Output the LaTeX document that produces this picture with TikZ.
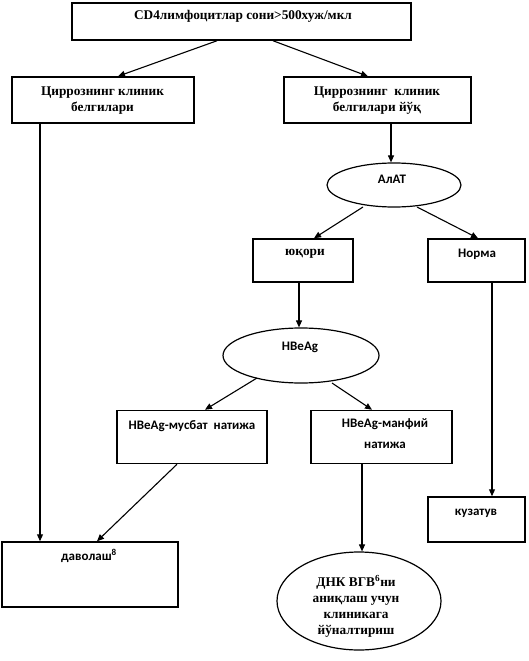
\documentclass[tikz,border=0pt]{standalone}
\usepackage{fontspec}
\setmainfont{Liberation Serif}
\newfontfamily\calfont{Carlito}
\usetikzlibrary{arrows.meta,shapes.geometric}
\begin{document}
\begin{tikzpicture}[x=1pt,y=-1pt,
  box/.style={draw,line width=1.5pt,rectangle,inner sep=0pt},
  ell/.style={draw,line width=1.2pt,ellipse,inner sep=0pt},
  arr/.style={line width=1.1pt,-{Triangle[length=7pt,width=6pt]}},
  ser/.style={font=\bfseries\fontsize{13.3}{16}\selectfont,align=center,inner sep=0pt},
  san/.style={font=\calfont\bfseries\fontsize{13}{21}\selectfont,align=center,inner sep=0pt}]
\useasboundingbox[fill=white] (0,0) rectangle (529,661);

\node[box,minimum width=339pt,minimum height=37pt] (top) at (241.5,21.5) {};
\node[ser] (topt) at (243,16) {CD4лимфоцитлар сони>500хуж/мкл};

\node[box,minimum width=182pt,minimum height=46pt] (cl) at (103,100) {};
\node[ser] (clt) at (102.5,101) {Циррознинг клиник\\белгилари};

\node[box,minimum width=187pt,minimum height=46pt] (cr) at (377.5,100) {};
\node[ser] (crt) at (377,101) {Циррознинг\ \ клиник\\белгилари йўқ};

\node[ell,minimum width=134pt,minimum height=44pt] (alat) at (394,185) {};
\node[san] (alatt) at (392,179) {АлАТ};

\node[box,minimum width=100pt,minimum height=43pt] (yu) at (303,260.5) {};
\node[ser] (yut) at (305,254) {юқори};

\node[box,minimum width=97pt,minimum height=43pt] (nor) at (476.5,260.5) {};
\node[san] (nort) at (477,254) {Норма};

\node[ell,minimum width=156pt,minimum height=55pt] (hb) at (301,355.5) {};
\node[san] (hbt) at (300,347) {HBeAg};

\node[box,minimum width=150pt,minimum height=53pt] (mus) at (192,437) {};
\node[san] (must) at (192,426) {HBeAg-мусбат\ \ натижа};

\node[box,minimum width=141pt,minimum height=53pt] (man) at (381.5,437) {};
\node[san] (mant) at (385,433.5) {HBeAg-манфий\\натижа};

\node[box,minimum width=176pt,minimum height=65pt] (dv) at (90,574.5) {};
\node[san] (dvt) at (89,556) {даволаш\textsuperscript{8}};

\node[box,minimum width=97pt,minimum height=45pt] (kuz) at (476.5,519.5) {};
\node[san] (kuzt) at (476,513) {кузатув};

\node[ell,minimum width=164pt,minimum height=98pt] (dnk) at (359,601) {};
\node[ser] (dnkt) at (356,606.5) {ДНК ВГВ\textsuperscript{6}ни\\аниқлаш учун\\клиникага\\йўналтириш};

\draw[arr] ([xshift=-24.5pt]top.south) -- ([xshift=15pt]cl.north);
\draw[arr] ([xshift=31.5pt]top.south) -- ([xshift=-9.5pt]cr.north);
\draw[arr] ([xshift=-63pt]cl.south) -- ([xshift=-50pt]dv.north);
\draw[arr] ([xshift=13.5pt]cr.south) -- ([xshift=-3pt]alat.north);
\draw[arr] ([shift={(-31,22)}]alat.center) -- ([xshift=11pt]yu.north);
\draw[arr] ([shift={(23,22)}]alat.center) -- ([xshift=1.5pt]nor.north);
\draw[arr] ([xshift=-4pt]yu.south) -- ([xshift=-2pt]hb.north);
\draw[arr] ([xshift=15.5pt]nor.south) -- ([xshift=15.5pt]kuz.north);
\draw[arr] ([shift={(-44,22.5)}]hb.center) -- ([xshift=13pt]mus.north);
\draw[arr] ([shift={(31,27.5)}]hb.center) -- ([xshift=-9.5pt]man.north);
\draw[arr] ([xshift=-15pt]mus.south) -- ([xshift=7pt]dv.north);
\draw[arr] ([xshift=-19.5pt]man.south) -- ([xshift=3pt]dnk.north);
\end{tikzpicture}
\end{document}
